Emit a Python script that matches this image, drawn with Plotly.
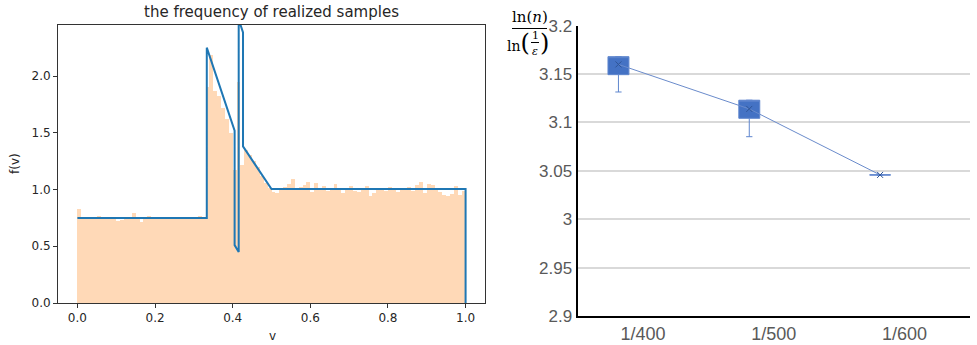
import numpy as np
import plotly.graph_objects as go

# ---------------- Left panel data ----------------
bin_width = 0.01
hist_heights = [
    0.83, 0.74, 0.75, 0.76, 0.75, 0.77, 0.75, 0.74, 0.75, 0.75, 0.72, 0.73, 0.74, 0.76, 0.79, 0.75,
    0.71, 0.75, 0.77, 0.74, 0.75, 0.76, 0.75, 0.74, 0.76, 0.75, 0.74, 0.75, 0.76, 0.75, 0.74, 0.77, 0.76,
    1.90, 2.19, 1.87, 1.82, 1.72, 1.62, 1.50, 1.17, 1.95, 1.22, 1.35, 1.30, 1.25, 1.20, 1.12, 1.06, 1.01,
    0.98, 0.97, 1.00, 1.02, 1.05, 1.09, 1.00, 1.02, 1.04, 1.07, 0.98, 1.06, 1.00, 1.03, 0.99, 1.00,
    1.05, 1.00, 0.97, 1.01, 1.03, 0.99, 0.98, 1.00, 1.03, 0.94, 0.97, 1.00, 1.01, 0.99, 1.02, 1.00,
    0.98, 1.01, 1.00, 1.02, 0.99, 1.04, 1.07, 0.97, 1.05, 1.04, 1.00, 0.98, 0.95, 0.94, 0.96, 1.03, 0.95, 0.99,
]
bin_centers = (np.arange(len(hist_heights)) + 0.5) * bin_width

density_v = [0.0, 0.3333, 0.3333, 0.405, 0.405, 0.4155, 0.4155, 0.4266, 0.4266, 0.5, 1.0, 1.0]
density_f = [0.75, 0.75, 2.25, 1.518, 0.51, 0.45, 2.50, 2.385, 1.38, 1.004, 1.004, 0.0]

left_xticks = [0.0, 0.2, 0.4, 0.6, 0.8, 1.0]
left_yticks = [0.0, 0.5, 1.0, 1.5, 2.0]

# ---------------- Right panel data ----------------
categories = ["1/400", "1/500", "1/600"]
q1 = [3.1494, 3.1043, 3.0458]
q3 = [3.1680, 3.1230, 3.0458]
lower_whisker = [3.1315, 3.0853, 3.0458]
means = [3.1600, 3.1140, 3.0458]
right_yticks = [2.9, 2.95, 3.0, 3.05, 3.1, 3.15, 3.2]
right_yticktext = ["2.9", "2.95", "3", "3.05", "3.1", "3.15", "3.2"]

W, H = 977, 345
def px(x):
    return x / W
def py(y):
    return 1 - y / H

fig = go.Figure()

fig.add_trace(go.Bar(
    x=bin_centers, y=hist_heights, width=bin_width,
    marker=dict(color="#FFD9B7", line=dict(width=0)),
    xaxis="x", yaxis="y", showlegend=False, hoverinfo="skip",
))
fig.add_trace(go.Scatter(
    x=density_v, y=density_f, mode="lines",
    line=dict(color="#1f77b4", width=2),
    xaxis="x", yaxis="y", showlegend=False, cliponaxis=True,
))

cat_pos = np.arange(len(categories))
box_offset = -0.187
box_x = cat_pos + box_offset
fig.add_trace(go.Box(
    x=box_x, q1=q1, median=q3, q3=q3,
    lowerfence=lower_whisker, upperfence=q3,
    width=0.16, whiskerwidth=0.3,
    fillcolor="#4472C4", line=dict(color="#5F86CE", width=1),
    xaxis="x2", yaxis="y2", showlegend=False, boxpoints=False,
))
fig.add_trace(go.Scatter(
    x=box_x, y=means, mode="lines+markers",
    line=dict(color="#6A8BCB", width=1),
    marker=dict(symbol="x-thin", size=6, line=dict(color="#2F5597", width=1)),
    xaxis="x2", yaxis="y2", showlegend=False,
))

tick_font_left = dict(family="DejaVu Sans", size=12, color="#262626")
right_yfont = dict(family="Liberation Sans, Arial", size=17, color="#595959")
right_xfont = dict(family="Liberation Sans, Arial", size=18, color="#595959")

fig.update_layout(
    width=W, height=H,
    margin=dict(l=0, r=0, t=0, b=0, pad=0, autoexpand=False),
    paper_bgcolor="white", plot_bgcolor="white",
    bargap=0,
    xaxis=dict(
        domain=[px(58), px(485)], range=[-0.05, 1.05], automargin=False,
        tickvals=left_xticks, tickformat=".1f",
        ticks="outside", ticklen=4, tickcolor="#333", tickwidth=1,
        showline=True, mirror=True, linecolor="#333", linewidth=1,
        showgrid=False, zeroline=False, tickfont=tick_font_left,
        anchor="y",
    ),
    yaxis=dict(
        domain=[py(303), py(25)], range=[0, 2.45], automargin=False,
        tickvals=left_yticks, tickformat=".1f",
        ticks="outside", ticklen=4, tickcolor="#333", tickwidth=1,
        showline=True, mirror=True, linecolor="#333", linewidth=1,
        showgrid=False, zeroline=False, tickfont=tick_font_left,
        anchor="x",
    ),
    xaxis2=dict(
        domain=[px(577.5), px(970)], range=[-0.5, 2.5], automargin=False,
        tickvals=list(cat_pos), ticktext=categories,
        ticks="", showline=True, linecolor="black", linewidth=2,
        showgrid=False, zeroline=False, tickfont=right_xfont,
        anchor="y2",
    ),
    yaxis2=dict(
        domain=[py(316), py(25.7)], range=[2.9, 3.2], automargin=False,
        tickvals=right_yticks, ticktext=right_yticktext,
        ticks="", showline=True, linecolor="black", linewidth=2,
        showgrid=True, gridcolor="#D9D9D9", gridwidth=1.5,
        zeroline=False, tickfont=right_yfont,
        anchor="x2",
    ),
)

annotations = [
    dict(text="the frequency of realized samples", x=px(271), y=py(12),
         font=dict(family="DejaVu Sans", size=15, color="#262626")),
    dict(text="v", x=px(272), y=py(336),
         font=dict(family="DejaVu Sans", size=12, color="#262626")),
    dict(text="f(v)", x=px(15), y=py(164), textangle=-90,
         font=dict(family="DejaVu Sans", size=12, color="#262626")),
    dict(text="ln(<i>n</i>)", x=px(530), y=py(17),
         font=dict(family="DejaVu Serif", size=15, color="black")),
    dict(text="ln<span style='font-size:24px'>(</span>", x=px(531), y=py(43), xanchor="right",
         font=dict(family="DejaVu Serif", size=14, color="black")),
    dict(text=")", x=px(539), y=py(43), xanchor="left",
         font=dict(family="DejaVu Serif", size=24, color="black")),
    dict(text="1", x=px(535), y=py(35),
         font=dict(family="DejaVu Serif", size=11, color="black")),
    dict(text="<i>ε</i>", x=px(535), y=py(51),
         font=dict(family="DejaVu Serif", size=11, color="black")),
]
for a in annotations:
    a.setdefault("xanchor", "center")
    a.update(xref="paper", yref="paper", showarrow=False, yanchor="middle", borderpad=0)
fig.update_layout(annotations=annotations)

fig.update_layout(shapes=[
    dict(type="line", xref="paper", yref="paper", x0=px(512), x1=px(547), y0=py(28.5), y1=py(28.5),
         line=dict(color="black", width=1)),
    dict(type="line", xref="paper", yref="paper", x0=px(531), x1=px(539), y0=py(42.5), y1=py(42.5),
         line=dict(color="black", width=1)),
])

post = (
    "document.documentElement.style.margin='0';"
    "document.body.style.margin='0';"
    "document.body.style.overflow='hidden';"
)
fig.write_html("out.html", config={"displayModeBar": False}, post_script=post)
